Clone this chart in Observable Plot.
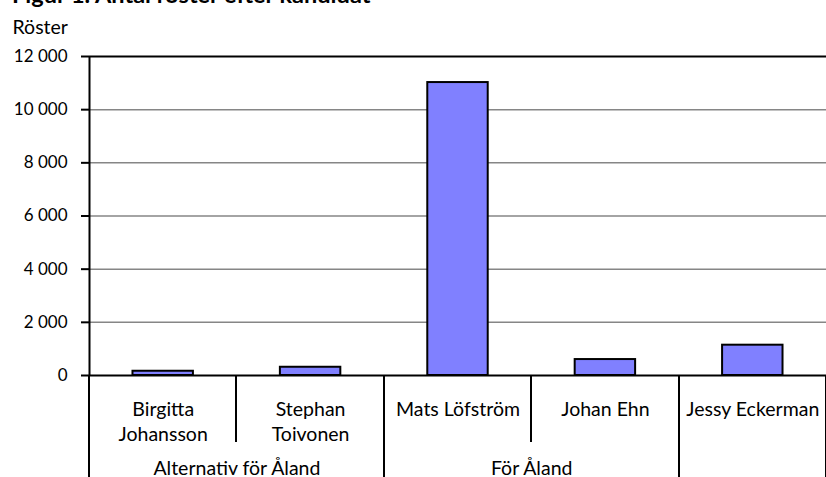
<!DOCTYPE html>
<html>
<head>
<meta charset="utf-8">
<script src="https://cdn.jsdelivr.net/npm/d3@7"></script>
<script src="https://cdn.jsdelivr.net/npm/@observablehq/plot@0.6"></script>
<style>
  html, body { margin: 0; padding: 0; background: #fff; overflow: hidden; }
  #wrap { position: relative; width: 826px; height: 477px; font-family: Lato, "Open Sans", sans-serif; }
  #title { position: absolute; left: 12px; top: -17px; font-size: 23.5px; font-weight: bold; color: #000; white-space: nowrap; line-height: 1; }
  #chart svg { display: block; }
</style>
</head>
<body>
<div id="wrap">
  <div id="title">Figur 1. Antal röster efter kandidat</div>
  <div id="chart"></div>
</div>
<script>
const candidates = ["Birgitta Johansson", "Stephan Toivonen", "Mats Löfström", "Johan Ehn", "Jessy Eckerman"];
const candidateLabels = ["Birgitta\nJohansson", "Stephan\nToivonen", "Mats Löfström", "Johan Ehn", "Jessy Eckerman"];
const parties = ["Alternativ för Åland", "Alternativ för Åland", "För Åland", "För Åland", ""];
const votes = [160, 310, 11020, 600, 1140];
const yTicks = [0, 2000, 4000, 6000, 8000, 10000, 12000];
const gridTicks = [2000, 4000, 6000, 8000, 10000];
const yLabel = "Röster";

const data = candidates.map((c, i) => ({i, candidate: c, label: candidateLabels[i], party: parties[i], votes: votes[i]}));

// group spans
const groups = [];
parties.forEach((p, i) => {
  const last = groups[groups.length - 1];
  if (last && last.party === p) last.end = i + 1;
  else groups.push({party: p, start: i, end: i + 1});
});

// boundaries between categories: full height if party changes
const boundaries = d3.range(candidates.length + 1).map(k => ({
  pos: k,
  full: k === 0 || k === candidates.length || parties[k - 1] !== parties[k]
}));

const fmt = d => d3.format(",")(d).replace(/,/g, " ");
const TICKFONT = 17;
const LABELFONT = 19.5;
const half = 0.205;

function separators(index, scales, values, dims) {
  const g = d3.create("svg:g").attr("stroke", "#000").attr("stroke-width", 2);
  const y0 = scales.y(0);
  for (const b of boundaries) {
    const x = Math.round(scales.x(b.pos));
    g.append("line")
      .attr("x1", x).attr("x2", x)
      .attr("y1", y0).attr("y2", b.full ? dims.height : y0 + 67);
  }
  return g.node();
}

const chart = Plot.plot({
  width: 826,
  height: 477,
  marginTop: 56,
  marginLeft: 89,
  marginRight: 0,
  marginBottom: 102,
  style: {fontFamily: "Lato, 'Open Sans', sans-serif", fontSize: TICKFONT + "px", color: "#000", background: "#fff", overflow: "visible"},
  x: {type: "linear", domain: [0, candidates.length], axis: null},
  y: {domain: [0, 12000], axis: null},
  marks: [
    Plot.ruleY(gridTicks, {stroke: "#868686", strokeWidth: 1.5}),
    Plot.ruleY([12000], {stroke: "#000", strokeWidth: 2}),
    Plot.rectY(data, {
      x1: d => d.i + 0.5 - half,
      x2: d => d.i + 0.5 + half,
      y1: 0,
      y2: "votes",
      fill: "#8080ff",
      stroke: "#000",
      strokeWidth: 2
    }),
    Plot.ruleX([0], {stroke: "#000", strokeWidth: 2}),
    Plot.ruleY([0], {stroke: "#000", strokeWidth: 2}),
    Plot.axisY(yTicks, {
      anchor: "left",
      tickSize: 8,
      tickPadding: 14,
      tickFormat: fmt,
      fontSize: TICKFONT,
      stroke: "#000",
      strokeWidth: 2,
      label: null
    }),
    separators,
    Plot.text(data, {
      x: d => d.i + 0.5,
      text: "label",
      frameAnchor: "bottom",
      lineAnchor: "top",
      dy: 22,
      lineHeight: 1.3,
      fontSize: LABELFONT,
      fill: "#000"
    }),
    Plot.text(groups.filter(g => g.party), {
      x: g => (g.start + g.end) / 2,
      text: "party",
      frameAnchor: "bottom",
      lineAnchor: "top",
      dy: 86,
      fontSize: LABELFONT,
      fill: "#000"
    }),
    Plot.text([yLabel], {
      frameAnchor: "top-left",
      textAnchor: "start",
      lineAnchor: "middle",
      dx: -77,
      dy: -29,
      fontSize: LABELFONT,
      fill: "#000"
    })
  ]
});

document.getElementById("chart").appendChild(chart);
</script>
</body>
</html>
